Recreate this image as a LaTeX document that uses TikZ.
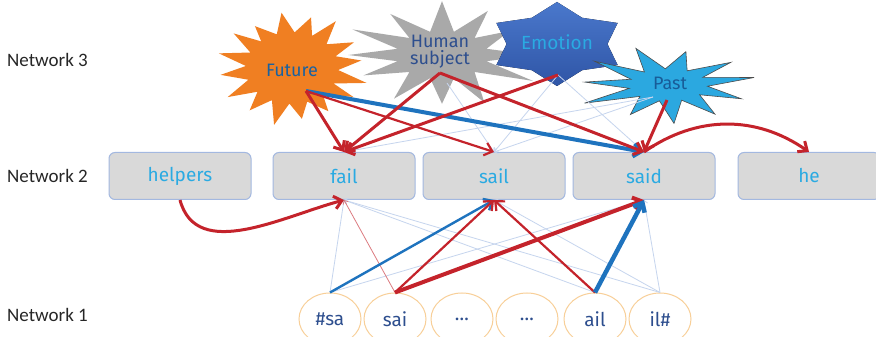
\documentclass[tikz,border=0pt]{standalone}
\usepackage{fontspec}
\setmainfont{Fira Sans}
\newfontfamily\labelfont{Carlito}
\usetikzlibrary{arrows.meta,shapes.geometric}

\definecolor{netred}{HTML}{C4232B}
\definecolor{netblue}{HTML}{1E73BE}
\definecolor{faintblue}{HTML}{C6D5EE}
\definecolor{boxgray}{HTML}{D9D9D9}
\definecolor{boxline}{HTML}{A3B8E0}
\definecolor{wordcyan}{HTML}{2AAAE2}
\definecolor{gramline}{HTML}{F8CF98}
\definecolor{gramtext}{HTML}{2D4E8E}
\definecolor{futureorange}{HTML}{F07F22}
\definecolor{humangray}{HTML}{A9A9A9}
\definecolor{emotiontop}{HTML}{4A78CC}
\definecolor{emotionbot}{HTML}{2F55A6}
\definecolor{pastcyan}{HTML}{2BA8E0}

% explosion outline: fill, cx, cy, rx, ry, last vertex, inner ratio, turn, jitter
\newcommand{\burst}[9]{%
  \fill[#1] ({#2+#4*cos(#8)},{#3+#5*sin(#8)})
    \foreach \k in {1,...,#6} {
      -- ({#2+ifthenelse(mod(\k,2)==0,1+#9*rand,#7)*#4*cos(#8+\k*360/(#6+1))},{#3+ifthenelse(mod(\k,2)==0,1+#9*rand,#7)*#5*sin(#8+\k*360/(#6+1))})
    } -- cycle;}

\begin{document}
\begin{tikzpicture}[x=1pt,y=1pt,
  >={Straight Barb[length=7.5pt,width=13pt]},
  netlabel/.style={anchor=west,inner sep=0pt,font=\labelfont\fontsize{19}{19}\selectfont,text=black!85},
  wordbox/.style={draw=boxline,line width=1pt,fill=boxgray,rounded corners=6pt,
    minimum width=142pt,minimum height=47pt,text=wordcyan,font=\fontsize{19}{19}\selectfont},
  gram/.style={ellipse,draw=gramline,line width=1pt,fill=white,minimum width=62pt,
    minimum height=52pt,inner sep=0pt,text=gramtext,font=\fontsize{19}{19}\selectfont},
  startext/.style={align=center,inner sep=0pt,font=\fontsize{18}{17}\selectfont},
  redthick/.style={draw=netred,line width=3pt,->},
  redmid/.style={draw=netred,line width=2.2pt,->},
  redthin/.style={draw=netred!60,line width=0.8pt,->,>={Straight Barb[length=3pt,width=6pt]}},
  bluethick/.style={draw=netblue,line width=4pt,->},
  bluemid/.style={draw=netblue,line width=2.4pt,->},
  faint/.style={draw=faintblue,line width=0.8pt,->,>={Straight Barb[length=3pt,width=6pt]}}]
  \fill[white] (0,0) rectangle (876,337);
  \useasboundingbox (0,0) rectangle (876,337);
  \pgfmathsetseed{11}

  % layer labels
  \node[netlabel] (n3) at (7,277) {Network 3};
  \node[netlabel] (n2) at (7,161) {Network 2};
  \node[netlabel] (n1) at (7,22) {Network 1};

  % network 3: concept bursts
  \burst{futureorange}{292}{269}{70}{54}{31}{0.66}{8}{0.12}
  \burst{humangray}{442}{282}{92}{48}{23}{0.5}{0}{0.15}
  \burst{top color=emotiontop,bottom color=emotionbot}{557}{293}{70}{42}{11}{0.72}{90}{0}
  \burst{pastcyan,draw=black!70,line width=0.6pt}{668}{252}{88}{36}{21}{0.45}{12}{0.12}
  \node[startext,text=netblue!85!black] (future) at (292,267) {Future};
  \node[startext,text=gramtext] (human) at (440,285) {Human\\subject};
  \node[startext,text=wordcyan,font=\fontsize{19}{19}\selectfont] (emotion) at (557,295) {Emotion};
  \node[startext,text=netblue!80!black] (past) at (670,254) {Past};
  \coordinate (future-p) at (306,246);
  \coordinate (human-p) at (440,264);
  \coordinate (human-q) at (447,254);
  \coordinate (emotion-p) at (558,262);
  \coordinate (past-p) at (667,237);
  \coordinate (past-q) at (653,240);

  % network 2: words
  \node[wordbox] (helpers) at (180,161) {helpers};
  \node[wordbox] (fail) at (344,161) {fail};
  \node[wordbox] (sail) at (494,161) {sail};
  \node[wordbox] (said) at (644,161) {said};
  \node[wordbox] (he) at (809,161) {he};

  % network 1: letter triples
  \foreach \name/\x/\lab in {g1/330/\#sa,g2/395/sai,g3/462/\dots,g4/527/\dots,g5/595/ail,g6/660/il\#}
    \node[gram] (\name) at (\x,18) {\lab};

  % weak links
  \draw[faint] (human-q) -- (sail.north);
  \draw[faint] (emotion-p) -- (sail.north);
  \draw[faint] (emotion-p) -- (said.north);
  \draw[faint] (past-q) -- (fail.north);
  \draw[faint] (past-q) -- (sail.north);
  \draw[faint] (g1.north) -- (fail.south);
  \draw[faint] (g1.north) -- (said.south);
  \draw[faint] (g5.north) -- (fail.south);
  \draw[faint] (g6.north) -- (fail.south);
  \draw[faint] (g6.north) -- (sail.south);
  \draw[faint] (g6.north) -- (said.south);
  \draw[redthin] (g2.north) -- (fail.south);

  % top-down links
  \draw[bluethick] (future-p) -- (said.north);
  \draw[redthick] (future-p) -- (fail.north);
  \draw[redmid] (future-p) -- (sail.north);
  \draw[redthick] (human-p) -- (fail.north);
  \draw[redthick] (human-p) -- (said.north);
  \draw[redthick] (emotion-p) -- (fail.north);
  \draw[redthick] (past-p) -- (said.north);
  \draw[redthick] (said.north) to[out=35,in=145] (he.north);
  \draw[redthick] (helpers.south) to[out=-75,in=-165] (fail.south);

  % bottom-up links
  \draw[bluemid] (g1.north) -- (sail.south);
  \draw[redmid] (g2.north) -- (sail.south);
  \draw[redmid] (g5.north) -- (sail.south);
  \draw[redthick,line width=4pt] (g2.north) -- (said.south);
  \draw[bluethick,line width=4.5pt] (g5.north) -- (said.south);
\end{tikzpicture}
\end{document}
